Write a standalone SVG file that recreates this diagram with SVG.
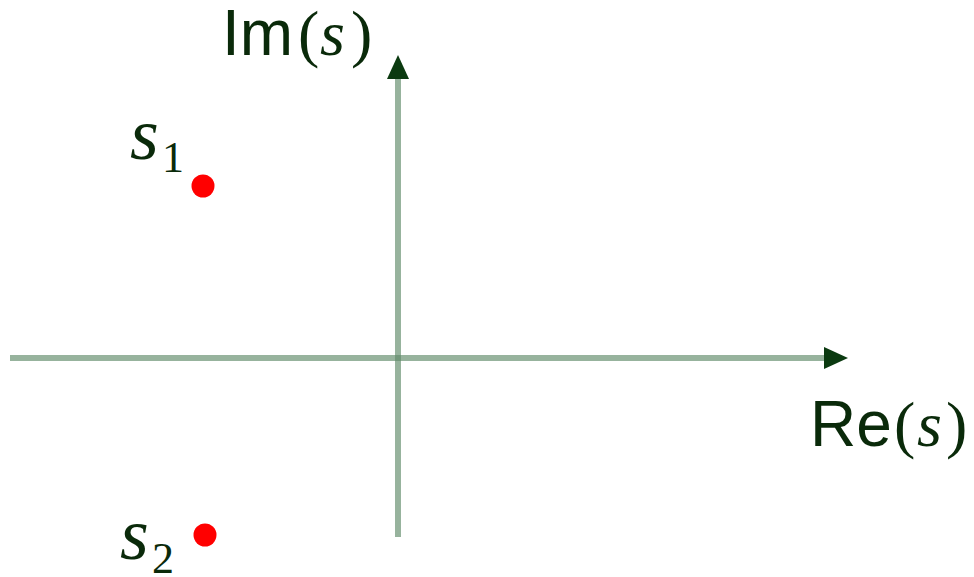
<svg xmlns="http://www.w3.org/2000/svg" width="974" height="577" viewBox="0 0 974 577">
<style>
.up{font-family:"Liberation Sans",Arial,sans-serif;font-size:64px;fill:#0a2a0a}
.it{font-family:"Liberation Serif","Times New Roman",serif;font-style:italic;fill:#0a2a0a}
.par{font-family:"Liberation Serif","Times New Roman",serif;font-size:64px;fill:#0a2a0a}
.sub{font-family:"Liberation Serif","Times New Roman",serif;font-size:44px;fill:#0a2a0a}
.axis{stroke:#5f8a68;stroke-opacity:0.65;stroke-width:6;fill:none}
.pt{fill:#ff0000}
</style>
<defs>
<marker id="ah" viewBox="0 0 24 22" refX="2" refY="11" markerWidth="24" markerHeight="22" markerUnits="userSpaceOnUse" orient="auto">
<path d="M0,0 L24,11 L0,22 Z" fill="#0b3a10"/>
</marker>
</defs>
<g id="connectors">
<line class="axis" x1="10" y1="358" x2="826" y2="358" marker-end="url(#ah)"/>
<line class="axis" x1="398" y1="537" x2="398" y2="77" marker-end="url(#ah)"/>
</g>
<g id="im-label">
<text class="up" x="222" y="55">Im</text>
<text class="par" x="298" y="55">(</text>
<text class="it" font-size="64" x="320" y="55">s</text>
<text class="par" x="351" y="55">)</text>
</g>
<g id="re-label">
<text class="up" x="810" y="446">Re</text>
<text class="par" x="894" y="446">(</text>
<text class="it" font-size="64" x="917" y="446">s</text>
<text class="par" x="946" y="446">)</text>
</g>
<g id="s1">
<text class="it" font-size="74" x="130" y="159">s</text>
<text class="sub" x="162" y="172">1</text>
<circle class="pt" cx="203" cy="186" r="11.5"/>
</g>
<g id="s2">
<text class="it" font-size="74" x="120" y="559">s</text>
<text class="sub" x="152" y="573">2</text>
<circle class="pt" cx="205" cy="535" r="11.5"/>
</g>
</svg>
